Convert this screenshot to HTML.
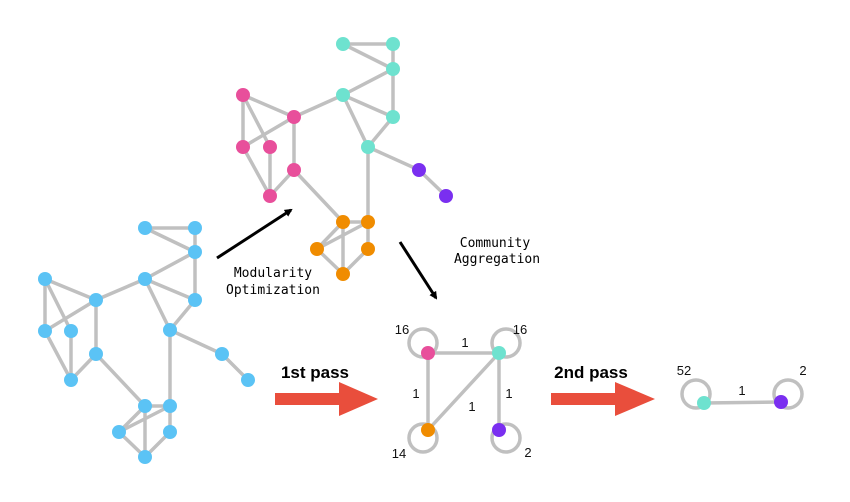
<!DOCTYPE html>
<html><head><meta charset="utf-8"><style>body{margin:0;background:#fff}svg{display:block}</style></head><body>
<svg width="850" height="502" viewBox="0 0 850 502" xmlns="http://www.w3.org/2000/svg">
<defs><marker id="ah" markerWidth="8" markerHeight="8" refX="6" refY="4" orient="auto" markerUnits="userSpaceOnUse"><path d="M0,0 L8,4 L0,8 z" fill="#000"/></marker></defs>
<g stroke="#c0c0c0" stroke-width="3.5" fill="none">
<!-- left graph -->
<path d="M145,228L195,228M145,228L195,252M195,228L195,252M195,252L145,279M195,252L195,300M145,279L195,300M145,279L170,330M195,300L170,330M170,330L222,354M222,354L248,380M170,330L170,406M145,279L96,300M45,279L96,300M45,279L45,331M45,279L71,331M96,300L45,331M45,331L71,380M71,331L71,380M96,300L96,354M96,354L71,380M96,354L145,406M145,406L170,406M145,406L119,432M170,406L119,432M145,406L145,457M170,406L170,432M119,432L145,457M170,432L145,457"/>
<!-- top graph -->
<path d="M343,44L393,44M343,44L393,69M393,44L393,69M393,69L343,95M393,69L393,117M343,95L393,117M343,95L368,147M393,117L368,147M368,147L419,170M419,170L446,196M368,147L368,222M343,95L294,117M243,95L294,117M243,95L243,147M243,95L270,147M294,117L243,147M243,147L270,196M270,147L270,196M294,117L294,170M294,170L270,196M294,170L343,222M343,222L368,222M343,222L317,249M368,222L317,249M343,222L343,274M368,222L368,249M317,249L343,274M368,249L343,274"/>
<!-- aggregated -->
<path d="M428,353L499,353M428,353L428,430M499,353L428,430M499,353L499,430M704,403L781,402"/>
<circle cx="423" cy="343" r="14"/><circle cx="506" cy="343" r="14"/><circle cx="423" cy="438" r="14"/><circle cx="506" cy="438" r="14"/>
<circle cx="696" cy="394" r="14"/><circle cx="788" cy="394" r="14"/>
</g>
<g fill="#5bc3f5">
<circle cx="145" cy="228" r="7"/><circle cx="195" cy="228" r="7"/><circle cx="195" cy="252" r="7"/><circle cx="145" cy="279" r="7"/><circle cx="195" cy="300" r="7"/><circle cx="170" cy="330" r="7"/><circle cx="222" cy="354" r="7"/><circle cx="248" cy="380" r="7"/><circle cx="45" cy="279" r="7"/><circle cx="96" cy="300" r="7"/><circle cx="45" cy="331" r="7"/><circle cx="71" cy="331" r="7"/><circle cx="96" cy="354" r="7"/><circle cx="71" cy="380" r="7"/><circle cx="145" cy="406" r="7"/><circle cx="170" cy="406" r="7"/><circle cx="119" cy="432" r="7"/><circle cx="170" cy="432" r="7"/><circle cx="145" cy="457" r="7"/>
</g>
<g fill="#6ee2cf"><circle cx="343" cy="44" r="7"/><circle cx="393" cy="44" r="7"/><circle cx="393" cy="69" r="7"/><circle cx="343" cy="95" r="7"/><circle cx="393" cy="117" r="7"/><circle cx="368" cy="147" r="7"/><circle cx="499" cy="353" r="7"/><circle cx="704" cy="403" r="7"/></g>
<g fill="#7a2ff0"><circle cx="419" cy="170" r="7"/><circle cx="446" cy="196" r="7"/><circle cx="499" cy="430" r="7"/><circle cx="781" cy="402" r="7"/></g>
<g fill="#e84f9b"><circle cx="243" cy="95" r="7"/><circle cx="294" cy="117" r="7"/><circle cx="243" cy="147" r="7"/><circle cx="270" cy="147" r="7"/><circle cx="294" cy="170" r="7"/><circle cx="270" cy="196" r="7"/><circle cx="428" cy="353" r="7"/></g>
<g fill="#f08c00"><circle cx="343" cy="222" r="7"/><circle cx="368" cy="222" r="7"/><circle cx="317" cy="249" r="7"/><circle cx="368" cy="249" r="7"/><circle cx="343" cy="274" r="7"/><circle cx="428" cy="430" r="7"/></g>
<g stroke="#000" stroke-width="3"><line x1="217" y1="258" x2="291" y2="210" marker-end="url(#ah)"/><line x1="400" y1="242" x2="436" y2="298" marker-end="url(#ah)"/></g>
<g font-family="'DejaVu Sans Mono','Liberation Mono',monospace" font-size="13" text-anchor="middle" fill="#000">
<text x="273" y="277">Modularity</text><text x="273" y="294">Optimization</text>
<text x="495" y="247">Community</text><text x="497" y="263">Aggregation</text>
</g>
<g fill="#e94e3c"><rect x="275" y="393" width="66" height="12"/><path d="M339,382L378,399L339,416z"/><rect x="551" y="393" width="66" height="12"/><path d="M615,382L655,399L615,416z"/></g>
<g font-family="'Liberation Sans',sans-serif" font-size="17" font-weight="bold" text-anchor="middle"><text x="315" y="378">1st pass</text><text x="591" y="378">2nd pass</text></g>
<g font-family="'Liberation Sans',sans-serif" font-size="13" text-anchor="middle" fill="#111">
<text x="402" y="334">16</text><text x="520" y="334">16</text><text x="465" y="347">1</text><text x="416" y="398">1</text><text x="472" y="411">1</text><text x="509" y="398">1</text><text x="399" y="458">14</text><text x="528" y="457">2</text>
<text x="684" y="375">52</text><text x="803" y="375">2</text><text x="742" y="395">1</text>
</g>
</svg>
</body></html>
